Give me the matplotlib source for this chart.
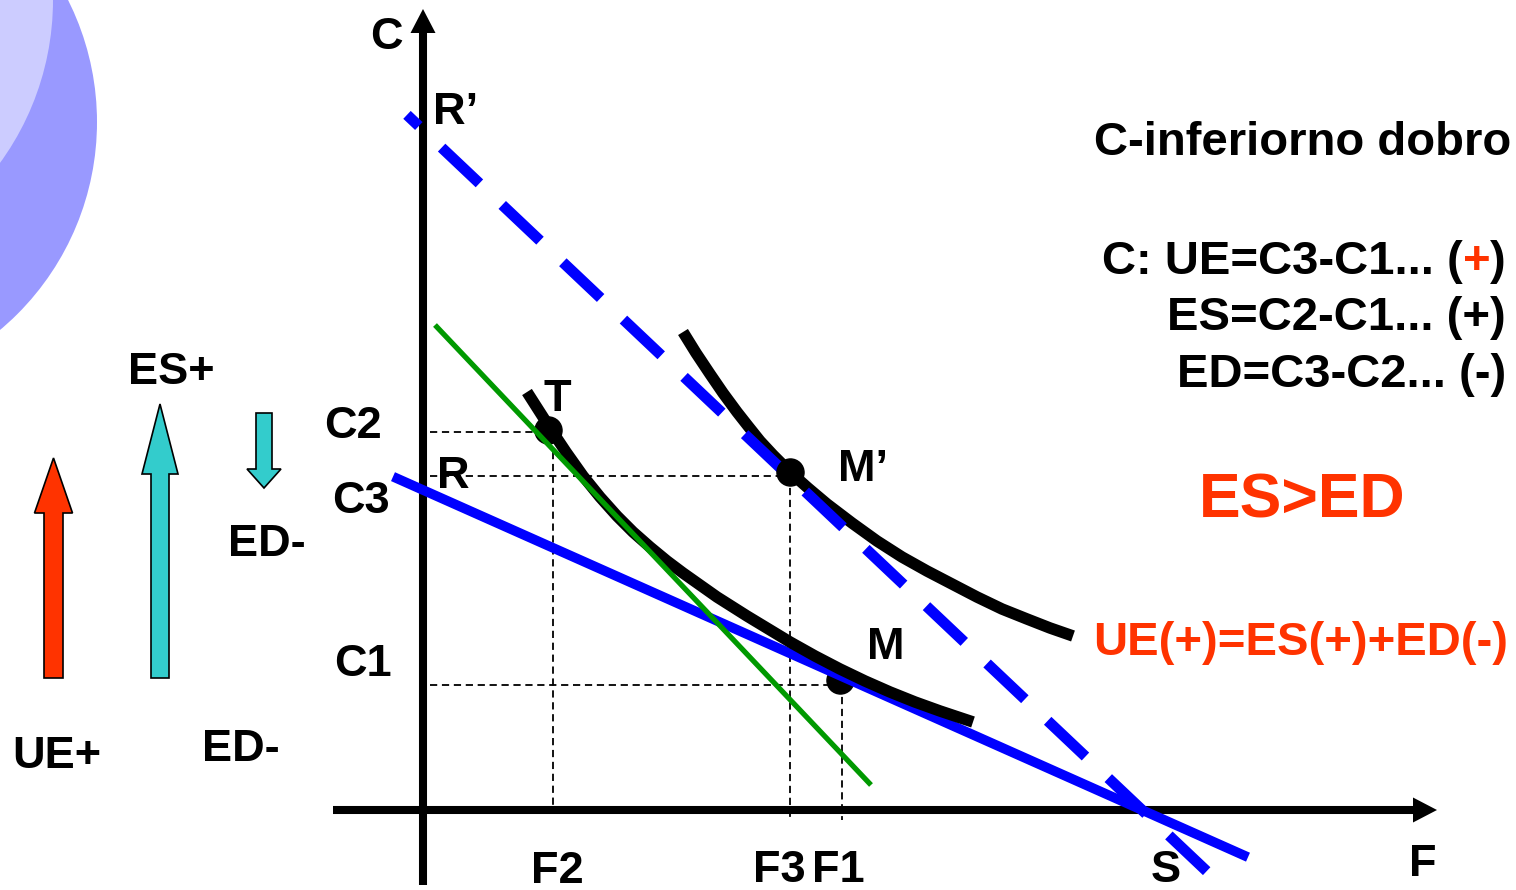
import matplotlib.pyplot as plt
from matplotlib.patches import Circle

plt.rcParams['font.family'] = ['Liberation Sans', 'DejaVu Sans']
plt.rcParams['font.weight'] = 'bold'

# ---- data (diagram units: F on x, C on y) ----
# lower indifference curve (through T and M)
u1_f = [1.04, 1.27, 1.43, 1.60, 1.77, 1.94, 2.10, 2.27, 2.44, 2.60, 2.77, 2.94, 3.24,
        3.67, 3.92, 4.17, 4.42, 4.67, 4.92, 5.17, 5.50]
u1_c = [4.18, 3.82, 3.58, 3.34, 3.13, 2.94, 2.78, 2.63, 2.49, 2.37, 2.25, 2.13, 1.94,
        1.68, 1.54, 1.41, 1.29, 1.18, 1.08, 0.99, 0.88]
# higher indifference curve (through M')
u2_f = [2.60, 2.73, 2.87, 3.00, 3.14, 3.25, 3.37, 3.50, 3.67, 3.85, 4.04, 4.29, 4.54,
        4.79, 5.04, 5.29, 5.54, 5.79, 6.04, 6.27, 6.50]
u2_c = [4.78, 4.57, 4.36, 4.17, 3.98, 3.84, 3.69, 3.55, 3.38, 3.22, 3.06, 2.87, 2.69,
        2.53, 2.39, 2.26, 2.13, 2.01, 1.91, 1.82, 1.74]

# budget lines: intercepts on C axis (R, R') and F axis (S)
R_c, R2_c, S_f = 3.20, 6.80, 7.19
# compensating (green) budget line end points
green_f = [0.12, 4.48]
green_c = [4.85, 0.25]

# equilibrium points
pt_names = ['T', "M'", 'M']
pt_f = [1.25, 3.67, 4.17]
pt_c = [3.80, 3.38, 1.30]

# guide levels
c_levels = {'C2': 3.78, 'C3': 3.34, 'C1': 1.25}
f_levels = {'F2': 1.30, 'F3': 3.67, 'F1': 4.19}

RED = '#FF3300'
CYAN = '#33CCCC'
BLUE = '#0000FF'
GREEN = '#009900'

fig = plt.figure(figsize=(15.16, 8.90), dpi=100)
ax = fig.add_axes([0, 0, 1, 1])
ax.set_xlim(-4.23, 10.93)
ax.set_ylim(-0.80, 8.10)
ax.axis('off')

# decorative circles in the corner
ax.add_patch(Circle((-5.975, 6.88), 2.715, color='#9999FF', lw=0, zorder=0))
ax.add_patch(Circle((-6.47, 8.10), 2.77, color='#CCCCFF', lw=0, zorder=0.1))

# axes with arrow heads
ax.plot([-0.90, 10.0], [0, 0], color='black', lw=5.8, solid_capstyle='butt', zorder=1.8)
ax.plot([0, 0], [-0.75, 7.8], color='black', lw=5.8, solid_capstyle='butt', zorder=1.8)
ax.fill([9.90, 10.14, 9.90], [0.125, 0, -0.125], color='black', lw=0, zorder=1.8)
ax.fill([-0.125, 0, 0.125], [7.77, 8.01, 7.77], color='black', lw=0, zorder=1.8)

# dashed guides
guide = dict(color='black', lw=1.3, ls=(0, (4, 2.6)), zorder=1)
ax.plot([0.07, pt_f[0]], [c_levels['C2']] * 2, **guide)
ax.plot([0.07, pt_f[1]], [c_levels['C3']] * 2, **guide)
ax.plot([0.07, pt_f[2]], [c_levels['C1']] * 2, **guide)
ax.plot([f_levels['F2']] * 2, [c_levels['C2'] - 0.2, 0.03], **guide)
ax.plot([f_levels['F3']] * 2, [c_levels['C3'], -0.08], **guide)
ax.plot([f_levels['F1']] * 2, [c_levels['C1'], -0.10], **guide)

# budget lines
f_rs = [-0.30, 8.25]
ax.plot(f_rs, [R_c * (1 - f / S_f) for f in f_rs], color=BLUE, lw=7.0,
        solid_capstyle='butt', zorder=2)
f_r2s = [-0.16, 7.87]
ax.plot(f_r2s, [R2_c * (1 - f / S_f) for f in f_r2s], color=BLUE, lw=7.8,
        ls=(3.3, (4.8, 2.9)), dash_capstyle='butt', zorder=4)
ax.plot(green_f, green_c, color=GREEN, lw=3.8, solid_capstyle='butt', zorder=6)

# indifference curves
ax.plot(u1_f, u1_c, color='black', lw=8.3, solid_capstyle='butt', solid_joinstyle='round', zorder=3)
ax.plot(u2_f, u2_c, color='black', lw=8.3, solid_capstyle='butt', solid_joinstyle='round', zorder=3)

# points
ax.plot(pt_f[:2], pt_c[:2], 'o', color='black', ms=19.5, zorder=5)
ax.plot(pt_f[2:], pt_c[2:], 'o', color='black', ms=19.5, zorder=1.9)

# left arrows
ax.arrow(-3.695, 1.32, 0, 2.20, width=0.19, head_width=0.38, head_length=0.55,
         length_includes_head=True, fc=RED, ec='black', lw=1.2, zorder=2)
ax.arrow(-2.63, 1.32, 0, 2.74, width=0.18, head_width=0.36, head_length=0.70,
         length_includes_head=True, fc=CYAN, ec='black', lw=1.2, zorder=2)
ax.arrow(-1.59, 3.97, 0, -0.75, width=0.16, head_width=0.34, head_length=0.19,
         length_includes_head=True, fc=CYAN, ec='black', lw=1.2, zorder=2)

# labels
lab = dict(fontsize=32.5, va='baseline', color='black', zorder=7)
ax.text(-0.37, 7.61, 'C', ha='center', **lab)
ax.text(0.10, 6.86, 'R\u2019', ha='left', **lab)
ax.text(-0.70, 3.72, 'C2', ha='center', **lab)
ax.text(-0.62, 2.97, 'C3', ha='center', **lab)
ax.text(-0.60, 1.34, 'C1', ha='center', **lab)
ax.text(0.14, 3.22, 'R', ha='left', **lab)
ax.text(1.20, 3.99, 'T', ha='left', **lab)
ax.text(4.15, 3.29, 'M\u2019', ha='left', **lab)
ax.text(4.44, 1.51, 'M', ha='left', **lab)
ax.text(1.34, -0.73, 'F2', ha='center', **lab)
ax.text(3.56, -0.72, 'F3', ha='center', **lab)
ax.text(4.15, -0.72, 'F1', ha='center', **lab)
ax.text(7.43, -0.72, 'S', ha='center', **lab)
ax.text(9.86, -0.66, 'F', ha='left', **lab)
ax.text(-2.52, 4.26, 'ES+', ha='center', **lab)
ax.text(-1.56, 2.54, 'ED-', ha='center', **lab)
ax.text(-3.66, 0.42, 'UE+', ha='center', **lab)
ax.text(-1.82, 0.49, 'ED-', ha='center', **lab)

# right-hand notes
ax.text(8.80, 6.55, 'C-inferiorno dobro', ha='center', va='baseline', fontsize=34)

renderer = fig.canvas.get_renderer()


def right_parts(x, y, parts, size):
    # draw coloured pieces right-aligned, from right to left
    for s, col in reversed(parts):
        t = ax.text(x, y, s, ha='right', va='baseline', color=col, fontsize=size)
        bb = t.get_window_extent(renderer)
        x = ax.transData.inverted().transform((bb.x0, bb.y0))[0]


right_x = 10.83
right_parts(right_x, 5.36, [('C: UE=C3-C1... (', 'black'), ('+', RED), (')', 'black')], 34)
right_parts(right_x, 4.80, [('ES=C2-C1... (+)', 'black')], 34)
right_parts(right_x, 4.23, [('ED=C3-C2... (-)', 'black')], 34)

ax.text(8.79, 2.93, 'ES>ED', ha='center', va='baseline', fontsize=45, color=RED)
ax.text(8.78, 1.55, 'UE(+)=ES(+)+ED(-)', ha='center', va='baseline', fontsize=34, color=RED)

fig.savefig('out.png', dpi=100)
